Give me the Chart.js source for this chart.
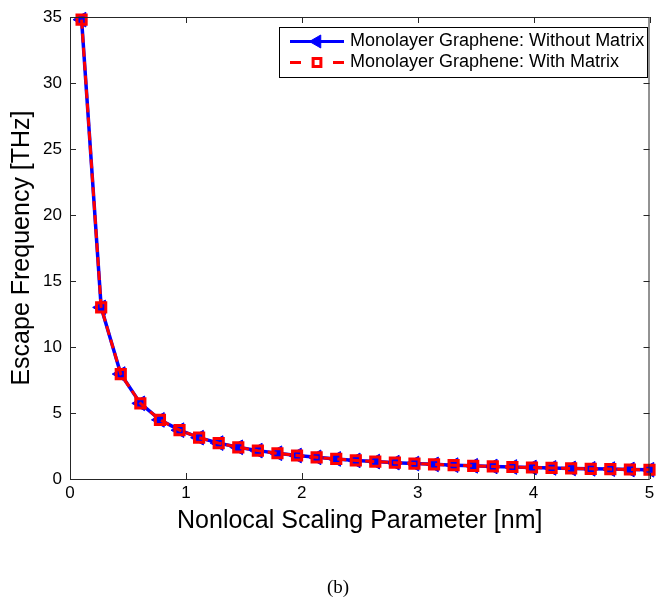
<!DOCTYPE html>
<html>
<head>
<meta charset="utf-8">
<script src="https://cdn.jsdelivr.net/npm/chart.js@4.4.0/dist/chart.umd.min.js"></script>
<style>
  html, body { margin: 0; padding: 0; background: #fff; }
  #wrap { width: 659px; height: 601px; }
</style>
</head>
<body>
<div id="wrap"><canvas id="chart" width="659" height="601"></canvas></div>
<script>
// nonlocal scaling parameter [nm]
let scaling = [0.1, 0.269, 0.438, 0.607, 0.776, 0.945, 1.114, 1.283, 1.452, 1.621,
               1.790, 1.959, 2.128, 2.297, 2.466, 2.634, 2.803, 2.972, 3.141, 3.310,
               3.479, 3.648, 3.817, 3.986, 4.155, 4.324, 4.493, 4.662, 4.831, 5.0];
// escape frequency [THz]
let withoutMatrix = [34.8, 13.0, 7.95, 5.73, 4.48, 3.70, 3.13, 2.72, 2.40, 2.15,
                     1.95, 1.78, 1.64, 1.52, 1.41, 1.32, 1.24, 1.17, 1.11, 1.05,
                     1.00, 0.95, 0.91, 0.87, 0.84, 0.80, 0.77, 0.75, 0.72, 0.70];
let withMatrix = [34.8, 13.0, 7.95, 5.73, 4.48, 3.70, 3.13, 2.72, 2.40, 2.15,
                  1.95, 1.78, 1.64, 1.52, 1.41, 1.32, 1.24, 1.17, 1.11, 1.05,
                  1.00, 0.95, 0.91, 0.87, 0.84, 0.80, 0.77, 0.75, 0.72, 0.70];
let xTicks = [0, 1, 2, 3, 4, 5];
let yTicks = [0, 5, 10, 15, 20, 25, 30, 35];
let legendLabels = ['Monolayer Graphene: Without Matrix', 'Monolayer Graphene: With Matrix'];

const sans = "'Liberation Sans', Arial, sans-serif";
const axisColor = '#262626';

function toPoints(ys) {
    return scaling.map((x, i) => ({x: x, y: ys[i]}));
}

// MATLAB style box, inward ticks, legend and caption
const matlabBox = {
    id: 'matlabBox',
    afterDraw(chart) {
        const ctx = chart.ctx;
        const area = chart.chartArea;
        const xs = chart.scales.x, ys = chart.scales.y;
        ctx.save();
        ctx.strokeStyle = axisColor;
        ctx.lineWidth = 1;
        ctx.strokeRect(area.left + 0.5, area.top + 0.5, area.right - area.left - 1, area.bottom - area.top);
        ctx.beginPath();
        xTicks.forEach(v => {
            let px = Math.round(xs.getPixelForValue(v)) + 0.5;
            ctx.moveTo(px, area.bottom); ctx.lineTo(px, area.bottom - 6);
            ctx.moveTo(px, area.top); ctx.lineTo(px, area.top + 6);
        });
        yTicks.forEach(v => {
            let py = Math.round(ys.getPixelForValue(v)) + 0.5;
            ctx.moveTo(area.left, py); ctx.lineTo(area.left + 6, py);
            ctx.moveTo(area.right, py); ctx.lineTo(area.right - 6, py);
        });
        ctx.stroke();

        // legend
        let lx = 279, ly = 27, lw = 368, lh = 50;
        ctx.fillStyle = '#fff';
        ctx.fillRect(lx, ly, lw, lh);
        ctx.strokeStyle = '#000';
        ctx.strokeRect(lx + 0.5, ly + 0.5, lw, lh);
        let rows = [41.5, 62.5];
        let order = [1, 0]; // dataset index for each legend row
        order.forEach((di, r) => {
            let ds = chart.data.datasets[di];
            let y = rows[r];
            ctx.strokeStyle = ds.borderColor;
            ctx.lineWidth = 3;
            ctx.beginPath();
            if (ds.borderDash) {
                ctx.moveTo(290, y); ctx.lineTo(301, y);
                ctx.moveTo(333, y); ctx.lineTo(344, y);
            } else {
                ctx.moveTo(290, y); ctx.lineTo(344, y);
            }
            ctx.stroke();
            ctx.fillStyle = ds.pointBackgroundColor;
            ctx.strokeStyle = ds.pointBorderColor;
            ctx.lineWidth = ds.pointBorderWidth;
            Chart.helpers.drawPoint(ctx, {
                pointStyle: ds.pointStyle,
                radius: ds.pointRadius - 1,
                rotation: ds.pointRotation || 0,
                borderWidth: ds.pointBorderWidth
            }, 317, y);
            ctx.fillStyle = '#000';
            ctx.font = '18px ' + sans;
            ctx.textAlign = 'left';
            ctx.textBaseline = 'middle';
            ctx.fillText(legendLabels[r], 350, y);
        });

        // caption
        ctx.fillStyle = '#000';
        ctx.font = "19px 'Liberation Serif', 'Times New Roman', serif";
        ctx.textAlign = 'center';
        ctx.textBaseline = 'middle';
        ctx.fillText('(b)', 338, 588);
        ctx.restore();
    }
};

let chart = new Chart(document.getElementById('chart'), {
    type: 'line',
    data: {
        datasets: [{
            label: legendLabels[1],
            data: toPoints(withMatrix),
            borderColor: '#ff0000',
            borderWidth: 3,
            borderDash: [9, 5],
            pointStyle: 'rect',
            pointRadius: 6.5,
            pointBorderWidth: 3,
            pointBackgroundColor: 'rgba(0,0,0,0)',
            pointBorderColor: '#ff0000',
            order: 0,
            clip: false
        }, {
            label: legendLabels[0],
            data: toPoints(withoutMatrix),
            borderColor: '#0000ff',
            borderWidth: 3.5,
            pointStyle: 'triangle',
            pointRotation: -90,
            pointRadius: 8.5,
            pointBorderWidth: 1,
            pointBackgroundColor: '#0000ff',
            pointBorderColor: '#0000ff',
            order: 1,
            clip: false
        }]
    },
    options: {
        responsive: false,
        animation: false,
        layout: {padding: {left: 0, top: 17, right: 1, bottom: 60}},
        plugins: {
            legend: {display: false},
            tooltip: {enabled: false}
        },
        scales: {
            x: {
                type: 'linear',
                min: 0, max: 5,
                grid: {display: false, drawTicks: false},
                border: {display: false},
                afterBuildTicks: s => { s.ticks = xTicks.map(v => ({value: v})); },
                afterFit: s => { s.height = 62; s.paddingLeft = 0; s.paddingRight = 0; },
                ticks: {color: '#000', font: {family: sans, size: 17}, padding: 4, maxRotation: 0},
                title: {
                    display: true,
                    text: 'Nonlocal Scaling Parameter [nm]',
                    color: '#000',
                    font: {family: sans, size: 25},
                    padding: {top: 0, bottom: 5}
                }
            },
            y: {
                type: 'linear',
                min: 0, max: 35,
                grid: {display: false, drawTicks: false},
                border: {display: false},
                afterBuildTicks: s => { s.ticks = yTicks.map(v => ({value: v})); },
                afterFit: s => { s.width = 70; s.paddingTop = 0; s.paddingBottom = 0; },
                ticks: {color: '#000', font: {family: sans, size: 17}, padding: 8},
                title: {
                    display: true,
                    text: 'Escape Frequency [THz]',
                    color: '#000',
                    font: {family: sans, size: 25},
                    padding: {top: 7, bottom: 0}
                }
            }
        }
    },
    plugins: [matlabBox]
});
</script>
</body>
</html>
